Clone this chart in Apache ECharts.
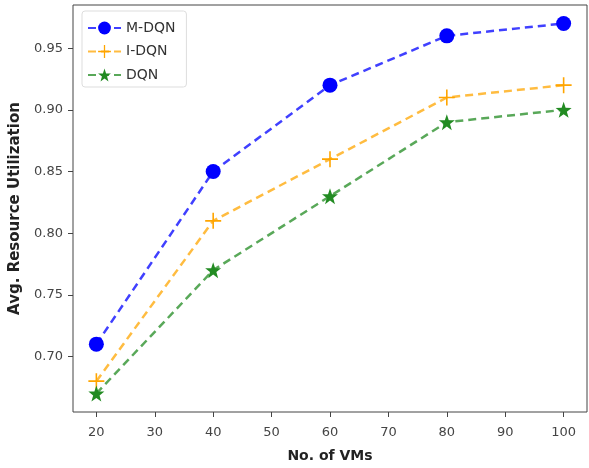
<!DOCTYPE html>
<html><head><meta charset="utf-8">
<script src="https://cdn.jsdelivr.net/npm/echarts@6/dist/echarts.min.js"></script>
<style>html,body{margin:0;padding:0;background:#fff}#c{width:589px;height:468px}</style>
</head><body><div id="c"></div>
<script>
var vms = [20, 40, 60, 80, 100];
var mdqn = [0.71, 0.85, 0.92, 0.96, 0.97];
var idqn = [0.68, 0.81, 0.86, 0.91, 0.92];
var dqn = [0.67, 0.77, 0.83, 0.89, 0.90];
var xTicks = [20, 30, 40, 50, 60, 70, 80, 90, 100];
var yTicks = [0.70, 0.75, 0.80, 0.85, 0.90, 0.95];

var plusPath = 'path://M-1,-10L1,-10L1,-1L10,-1L10,1L1,1L1,10L-1,10L-1,1L-10,1L-10,-1L-1,-1Z';
var starPath = 'path://M0,-10L2.35,-3.24L9.51,-3.09L3.8,1.24L5.88,8.09L0,4L-5.88,8.09L-3.8,1.24L-9.51,-3.09L-2.35,-3.24Z';

function pts(arr){ return vms.map(function(v,i){ return [v, arr[i]]; }); }
function ser(name, arr, color, symbol, size){
  return {
    name: name, type: 'line', data: pts(arr), symbol: symbol, symbolSize: size,
    lineStyle: {type: [8, 5], width: 2.5, color: color, opacity: 0.75},
    itemStyle: {color: color, opacity: 1},
    emphasis: {disabled: true}, animation: false
  };
}
var chart = echarts.init(document.getElementById('c'));
chart.setOption({
  animation: false,
  grid: {left: 73, right: 2, top: 5, bottom: 55, show: true, borderColor: '#444', borderWidth: 1},
  legend: {
    orient: 'vertical', left: 82, top: 11, itemWidth: 33, itemHeight: 16, itemGap: 9.5,
    padding: [10, 11, 5, 5],
    borderColor: '#ddd', borderWidth: 1, borderRadius: 3, backgroundColor: '#fff',
    textStyle: {fontFamily: 'DejaVu Sans', fontSize: 14, color: '#333'},
    data: ['M-DQN', 'I-DQN', 'DQN']
  },
  xAxis: {
    type: 'value', min: 16, max: 104,
    name: 'No. of VMs', nameLocation: 'middle', nameGap: 37,
    nameTextStyle: {fontFamily: 'DejaVu Sans', fontWeight: 'bold', fontSize: 14, color: '#222'},
    axisLine: {show: false}, splitLine: {show: false},
    axisTick: {show: true, length: 5, customValues: xTicks, lineStyle: {color: '#444'}},
    axisLabel: {customValues: xTicks, fontFamily: 'DejaVu Sans', fontSize: 13, color: '#444', margin: 14}
  },
  yAxis: {
    type: 'value', min: 0.655, max: 0.985,
    name: 'Avg. Resource Utilization', nameLocation: 'middle', nameGap: 50,
    nameTextStyle: {fontFamily: 'DejaVu Sans', fontWeight: 'bold', fontSize: 15, color: '#222'},
    axisLine: {show: false}, splitLine: {show: false},
    axisTick: {show: true, length: 5, customValues: yTicks, lineStyle: {color: '#444'}},
    axisLabel: {customValues: yTicks, fontFamily: 'DejaVu Sans', fontSize: 13, color: '#444', margin: 10,
      formatter: function(v){ return v.toFixed(2); }}
  },
  series: [
    ser('M-DQN', mdqn, '#0000ff', 'circle', 15),
    ser('I-DQN', idqn, '#ffa500', plusPath, 16),
    ser('DQN', dqn, '#228b22', starPath, 16)
  ]
});
</script></body></html>
